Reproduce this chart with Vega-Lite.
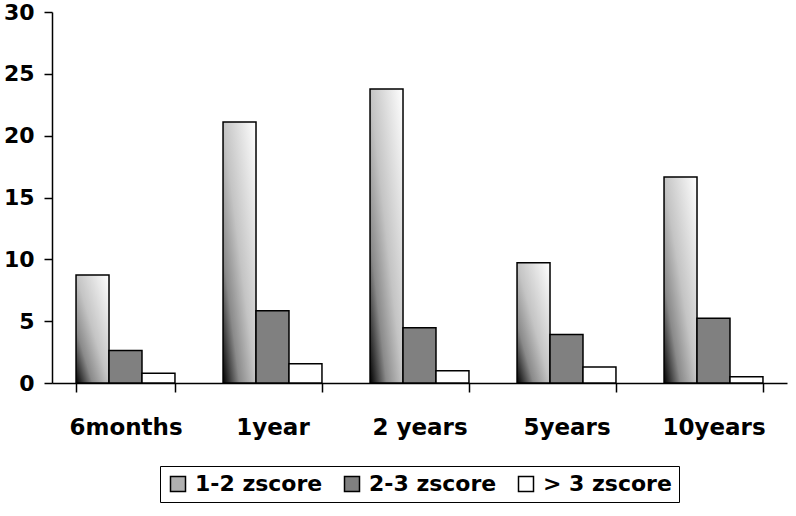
{
  "$schema": "https://vega.github.io/schema/vega-lite/v6.json",
  "width": 735,
  "height": 371,
  "autosize": {"type": "none"},
  "padding": {"left": 52, "top": 12, "right": 9, "bottom": 133},
  "background": "white",
  "config": {"view": {"stroke": null}, "font": "DejaVu Sans"},
  "data": {
    "values": [
      {"period": "6months", "series": "1-2 zscore", "value": 8.74},
      {"period": "6months", "series": "2-3 zscore", "value": 2.63},
      {"period": "6months", "series": "> 3 zscore", "value": 0.78},
      {"period": "1year", "series": "1-2 zscore", "value": 21.1},
      {"period": "1year", "series": "2-3 zscore", "value": 5.84},
      {"period": "1year", "series": "> 3 zscore", "value": 1.56},
      {"period": "2 years", "series": "1-2 zscore", "value": 23.77},
      {"period": "2 years", "series": "2-3 zscore", "value": 4.46},
      {"period": "2 years", "series": "> 3 zscore", "value": 1.0},
      {"period": "5years", "series": "1-2 zscore", "value": 9.72},
      {"period": "5years", "series": "2-3 zscore", "value": 3.92},
      {"period": "5years", "series": "> 3 zscore", "value": 1.29},
      {"period": "10years", "series": "1-2 zscore", "value": 16.65},
      {"period": "10years", "series": "2-3 zscore", "value": 5.23},
      {"period": "10years", "series": "> 3 zscore", "value": 0.51}
    ]
  },
  "mark": {"type": "bar", "stroke": "black", "strokeWidth": 1.5},
  "encoding": {
    "x": {
      "field": "period",
      "type": "nominal",
      "sort": ["6months", "1year", "2 years", "5years", "10years"],
      "scale": {"paddingInner": 0.327, "paddingOuter": 0.1635},
      "axis": {
        "title": null,
        "labelAngle": 0,
        "grid": false,
        "domainColor": "black",
        "domainWidth": 1.5,
        "tickColor": "black",
        "tickWidth": 1.5,
        "tickSize": 9,
        "tickBand": "extent",
        "labelFont": "DejaVu Sans",
        "labelFontSize": 23,
        "labelFontWeight": "bold",
        "labelColor": "black",
        "labelPadding": 24
      }
    },
    "xOffset": {"field": "series", "sort": ["1-2 zscore", "2-3 zscore", "> 3 zscore"]},
    "y": {
      "field": "value",
      "type": "quantitative",
      "scale": {"domain": [0, 30], "nice": false},
      "axis": {
        "title": null,
        "grid": false,
        "values": [0, 5, 10, 15, 20, 25, 30],
        "domainColor": "black",
        "domainWidth": 1.5,
        "tickColor": "black",
        "tickWidth": 1.5,
        "tickSize": 8,
        "labelFont": "DejaVu Sans",
        "labelFontSize": 22,
        "labelFontWeight": "bold",
        "labelColor": "black",
        "labelPadding": 10
      }
    },
    "color": {
      "field": "series",
      "type": "nominal",
      "sort": ["1-2 zscore", "2-3 zscore", "> 3 zscore"],
      "condition": {
        "test": "datum.series === '1-2 zscore'",
        "value": {
          "gradient": "linear",
          "x1": 0, "y1": 1, "x2": 1, "y2": 0,
          "stops": [
            {"offset": 0, "color": "#000000"},
            {"offset": 0.25, "color": "#8a8a8a"},
            {"offset": 0.5, "color": "#c4c4c4"},
            {"offset": 1, "color": "#ffffff"}
          ]
        }
      },
      "scale": {
        "domain": ["1-2 zscore", "2-3 zscore", "> 3 zscore"],
        "range": ["#b0b0b0", "#808080", "#ffffff"]
      },
      "legend": {
        "orient": "none",
        "legendX": 108,
        "legendY": 454,
        "direction": "horizontal",
        "title": null,
        "strokeColor": "black",
        "padding": 7,
        "symbolType": "square",
        "symbolSize": 225,
        "symbolStrokeColor": "black",
        "symbolStrokeWidth": 1.5,
        "labelFont": "DejaVu Sans",
        "labelFontSize": 22,
        "labelFontWeight": "bold",
        "labelColor": "black",
        "labelOffset": 6,
        "columnPadding": 18,
        "encode": {
          "symbols": {
            "update": {
              "fill": [
                {
                  "test": "datum.value === '1-2 zscore'",
                  "value": {
                    "gradient": "linear",
                    "x1": 0, "y1": 1, "x2": 1, "y2": 0,
                    "stops": [
                      {"offset": 0, "color": "#000000"},
                      {"offset": 0.25, "color": "#8a8a8a"},
                      {"offset": 0.5, "color": "#c4c4c4"},
                      {"offset": 1, "color": "#ffffff"}
                    ]
                  }
                },
                {"scale": "color", "field": "value"}
              ],
              "stroke": {"value": "black"},
              "strokeWidth": {"value": 1.5},
              "opacity": {"value": 1}
            }
          }
        }
      }
    }
  }
}
